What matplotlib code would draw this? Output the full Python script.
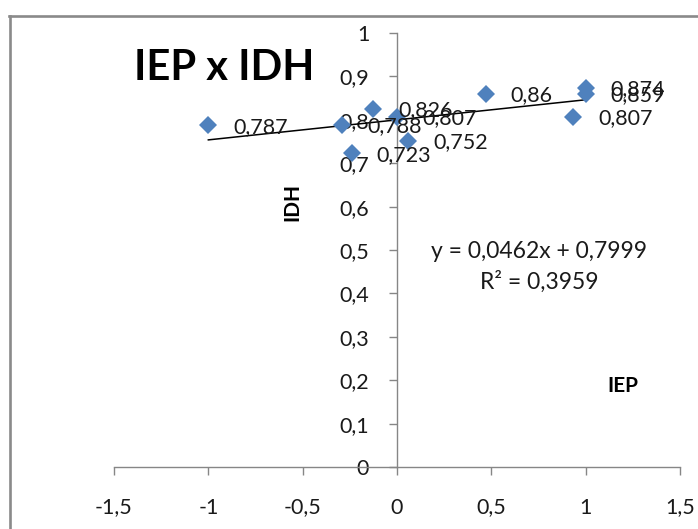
import matplotlib
matplotlib.use('Agg')
import matplotlib.pyplot as plt
import numpy as np
from matplotlib.ticker import FixedLocator, FuncFormatter
from matplotlib.lines import Line2D

# ---- data ----
iep = [-1.0, -0.29, -0.125, 0.0, -0.24, 0.06, 0.47, 1.0, 1.0, 0.935]
idh = [0.787, 0.788, 0.826, 0.807, 0.723, 0.752, 0.86, 0.874, 0.859, 0.807]
x_ticks = [-1.5, -1, -0.5, 0, 0.5, 1, 1.5]
y_ticks = [0, 0.1, 0.2, 0.3, 0.4, 0.5, 0.6, 0.7, 0.8, 0.9, 1.0]
title = "IEP x IDH"
x_label = "IEP"
y_label = "IDH"
equation = "y = 0,0462x + 0,7999"
r_squared = "R² = 0,3959"

plt.rcParams['font.family'] = ['Lato', 'DejaVu Sans']

W, H = 698, 529
fig = plt.figure(figsize=(W / 100, H / 100), dpi=100)
fig.patch.set_facecolor('white')

def fx(px):
    return px / W

def fy(py):
    return 1 - py / H

# chart border (left and top edges visible)
fig.add_artist(Line2D([fx(9.5), fx(9.5)], [fy(16), 0], transform=fig.transFigure,
                      color='#8a8a8a', lw=1.9))
fig.add_artist(Line2D([fx(8.5), 1], [fy(16), fy(16)], transform=fig.transFigure,
                      color='#8a8a8a', lw=1.9))

ax = fig.add_axes([fx(114), fy(467), fx(680) - fx(114), fy(33) - fy(467)])
ax.set_xlim(-1.5, 1.5)
ax.set_ylim(0, 1)
ax.patch.set_alpha(0)

axis_col = '#868686'
for s in ['top', 'right']:
    ax.spines[s].set_visible(False)
ax.spines['left'].set_position(('data', 0))
ax.spines['bottom'].set_position(('data', 0))
for s in ['left', 'bottom']:
    ax.spines[s].set_color(axis_col)
    ax.spines[s].set_linewidth(1.0)

def fmt(v, pos=None):
    s = f"{v:.3f}".rstrip('0').rstrip('.')
    if s in ('-0', ''):
        s = '0'
    return s.replace('.', ',')

ax.xaxis.set_major_locator(FixedLocator(x_ticks))
ax.yaxis.set_major_locator(FixedLocator(y_ticks))
ax.xaxis.set_major_formatter(FuncFormatter(fmt))
ax.yaxis.set_major_formatter(FuncFormatter(fmt))
ax.tick_params(axis='x', direction='out', length=6, width=1, color=axis_col,
               labelsize=15.5, pad=16, labelcolor='#1a1a1a')
ax.tick_params(axis='y', direction='out', length=6, width=1, color=axis_col,
               labelsize=15.5, pad=14, labelcolor='#1a1a1a')

# trendline
coef = np.polyfit(iep, idh, 1)
xs = np.array([min(iep), max(iep)])
ax.plot(xs, np.polyval(coef, xs), color='black', lw=1.1, zorder=3)

# points
ax.plot(iep, idh, linestyle='none', marker='D', markersize=9.5,
        markerfacecolor='#4F81BD', markeredgewidth=0, zorder=4)

# data labels
for x, y in zip(iep, idh):
    ax.annotate(fmt(y), (x, y), xytext=(18, -1), textcoords='offset points',
                ha='left', va='center', fontsize=15.5, color='#1a1a1a', zorder=5)

# texts
fig.text(fx(224), fy(68), title, fontsize=30, fontweight='bold',
         ha='center', va='center', color='black')
fig.text(fx(292), fy(202), y_label, fontsize=15, fontweight='bold',
         rotation=90, ha='center', va='center', color='black')
fig.text(fx(623), fy(386), x_label, fontsize=15, fontweight='bold',
         ha='center', va='center', color='black')
fig.text(fx(539), fy(251), equation, fontsize=16.5, ha='center', va='center',
         color='#1a1a1a')
fig.text(fx(539), fy(282), r_squared, fontsize=16.5, ha='center', va='center',
         color='#1a1a1a')

fig.savefig('out.png', dpi=100, facecolor='white')
